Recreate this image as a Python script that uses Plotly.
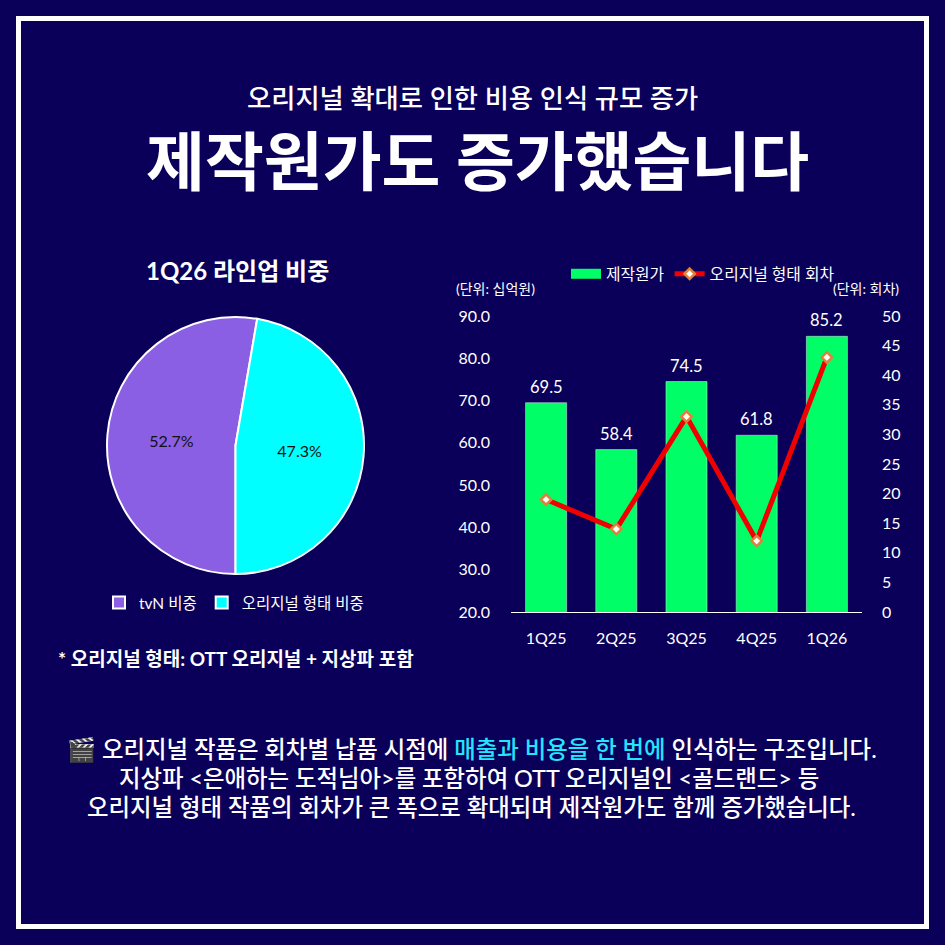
import plotly.graph_objects as go

FONT = "Lato, Noto Sans CJK KR, sans-serif"
NAVY = "#0A0059"

quarters = ["1Q25", "2Q25", "3Q25", "4Q25", "1Q26"]
cost = [69.5, 58.4, 74.5, 61.8, 85.2]
episodes = [19, 14, 33, 12, 43]

pie_labels = ["tvN 비중", "오리지널 형태 비중"]
pie_values = [52.7, 47.3]

left_ticks = [20, 30, 40, 50, 60, 70, 80, 90]
right_ticks = [0, 5, 10, 15, 20, 25, 30, 35, 40, 45, 50]

W = 945.0

fig = go.Figure()

fig.add_trace(go.Pie(
    labels=pie_labels, values=pie_values, sort=False, direction="clockwise", rotation=180,
    domain=dict(x=[107 / W, 364 / W], y=[1 - 574 / W, 1 - 317 / W]),
    marker=dict(colors=["#8B5FE3", "#00FFFF"], line=dict(color="white", width=2)),
    texttemplate="%{percent:.1%}", textposition="inside", insidetextorientation="horizontal",
    textfont=dict(color="#111111", size=16, family=FONT),
    legend="legend2", hoverinfo="label+percent",
))

fig.add_trace(go.Bar(
    x=quarters, y=cost, name="제작원가", marker_color="#00FF66", width=0.585,
    showlegend=False, xaxis="x", yaxis="y",
))

# empty trace, only there to get the wide green swatch in the legend
fig.add_trace(go.Scatter(
    x=[None], y=[None], name="제작원가", mode="lines",
    line=dict(color="#00FF66", width=10), xaxis="x", yaxis="y",
))

fig.add_trace(go.Scatter(
    x=quarters, y=episodes, name="오리지널 형태 회차", mode="lines+markers",
    line=dict(color="#F00000", width=5),
    marker=dict(symbol="diamond", size=8, color="white", line=dict(color="#E0803C", width=2.5)),
    xaxis="x", yaxis="y2",
))

fig.update_layout(
    width=945, height=945,
    margin=dict(l=0, r=0, t=0, b=0, autoexpand=False),
    paper_bgcolor=NAVY, plot_bgcolor=NAVY,
    font=dict(family=FONT, color="white"),
    bargap=0.415,
    xaxis=dict(
        domain=[511 / W, 862 / W], anchor="y", showgrid=False, showline=True, linecolor="white",
        linewidth=1, ticks="", ticklabelstandoff=12, tickfont=dict(size=16, color="white"),
    ),
    yaxis=dict(
        domain=[1 - 612 / W, 1 - 316 / W], range=[20, 90], tickvals=left_ticks,
        tickformat=".1f", showgrid=False, zeroline=False, showline=False, ticks="",
        ticklabelstandoff=20, tickfont=dict(size=16, color="white"),
    ),
    yaxis2=dict(
        domain=[1 - 612 / W, 1 - 316 / W], range=[0, 50], tickvals=right_ticks, overlaying="y",
        side="right", anchor="x", showgrid=False, zeroline=False, showline=False, ticks="",
        ticklabelstandoff=19, tickfont=dict(size=16, color="white"),
    ),
    legend=dict(
        orientation="h", x=566 / W, xanchor="left", y=1 - 274 / W, yanchor="middle",
        font=dict(size=15.8, color="white"), bgcolor="rgba(0,0,0,0)", itemwidth=30,
    ),
    legend2=dict(
        orientation="h", x=234 / W, xanchor="center", y=1 - 603 / W, yanchor="middle",
        font=dict(size=15.5, color="white"), bgcolor="rgba(0,0,0,0)",
    ),
    shapes=[dict(
        type="rect", xref="paper", yref="paper", x0=18.5 / W, x1=926.5 / W, y0=18.5 / W, y1=926.5 / W,
        line=dict(color="white", width=5), fillcolor="rgba(0,0,0,0)", layer="below",
    )],
)

# bar values sit further above the bars than textposition=outside allows
for q, v in zip(quarters, cost):
    fig.add_annotation(
        text=f"{v:.1f}", x=q, y=v, xref="x", yref="y", yshift=16, showarrow=False,
        xanchor="center", yanchor="middle", font=dict(size=16.5, color="white"),
    )


def note(text, x, y, size, weight=400):
    fig.add_annotation(
        text=text, x=x / W, y=1 - y / W, xref="paper", yref="paper",
        showarrow=False, xanchor="center", yanchor="middle",
        font=dict(size=size, color="white", weight=weight),
    )


note("오리지널 확대로 인한 비용 인식 규모 증가", 472, 98, 26.3, 500)
note("제작원가도 증가했습니다", 477, 160, 64, 700)
note("1Q26 라인업 비중", 238, 270, 24, 700)
note("(단위: 십억원)", 495, 288, 14)
note("(단위: 회차)", 866, 288, 14)
note("* 오리지널 형태: OTT 오리지널 + 지상파 포함", 236, 658, 19, 700)
note("🎬 오리지널 작품은 회차별 납품 시점에 <span style=\"color:#22E6FF\">매출과 비용을 한 번에</span> 인식하는 구조입니다.", 472, 749, 23.4, 500)
note("지상파 &lt;은애하는 도적님아&gt;를 포함하여 OTT 오리지널인 &lt;골드랜드&gt; 등", 469, 778, 23.4, 500)
note("오리지널 형태 작품의 회차가 큰 폭으로 확대되며 제작원가도 함께 증가했습니다.", 471, 807, 23.4, 500)

fig.write_html("out.html", config=dict(displayModeBar=False), post_script="document.body.style.margin='0';")
